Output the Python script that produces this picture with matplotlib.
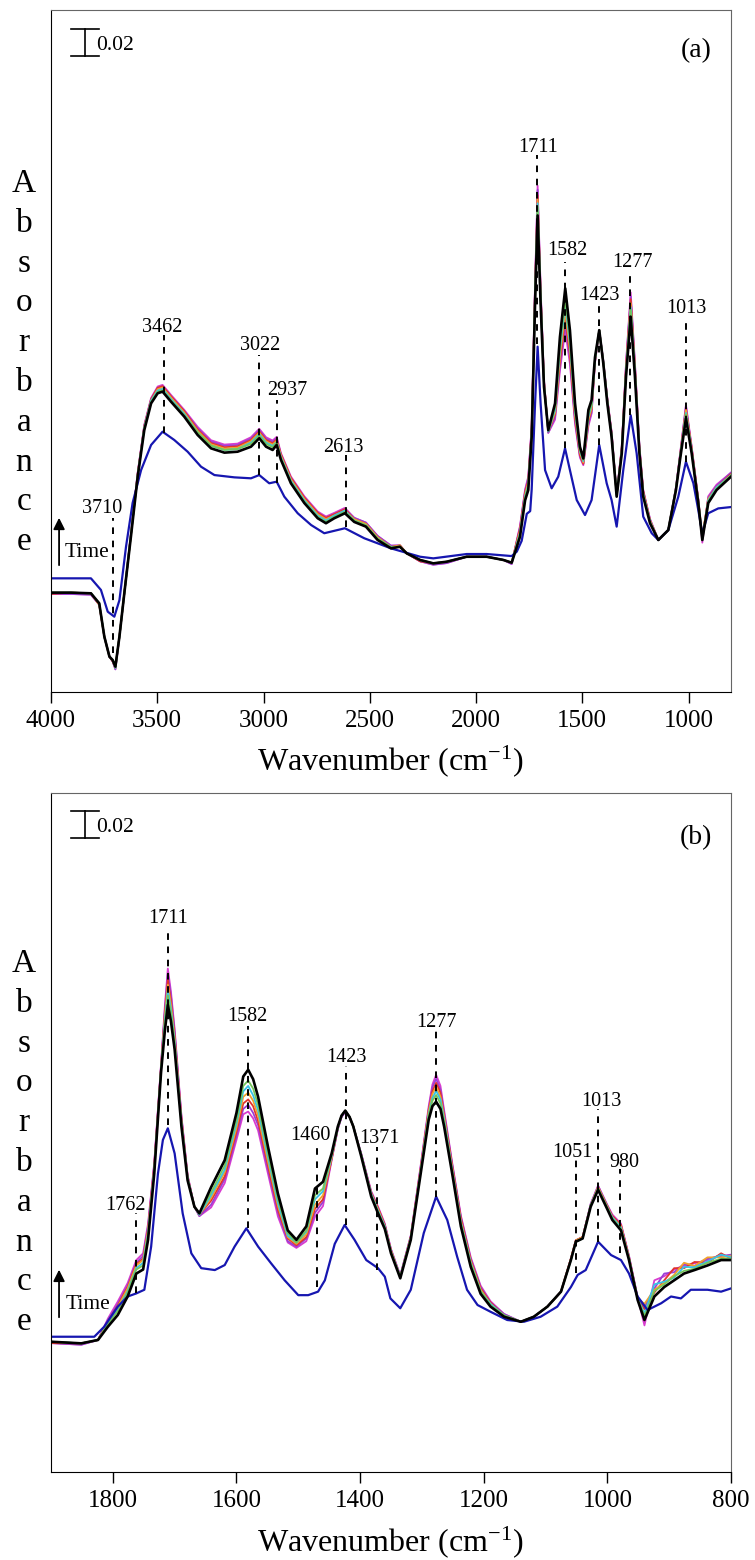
import numpy as np
import matplotlib.pyplot as plt
from matplotlib.transforms import blended_transform_factory

plt.rcParams['font.family'] = ['Liberation Serif', 'DejaVu Serif']
plt.rcParams['mathtext.fontset'] = 'stix'

# ---------------- panel (a), 4000-800 cm-1 ----------------
# absorbance (the 0.02 bar is 27 px tall)
wn_a = [4000, 3906, 3812, 3773, 3749, 3725, 3710, 3697, 3678, 3655,
        3624, 3592, 3561, 3529, 3498, 3475, 3435, 3373, 3310, 3247,
        3184, 3122, 3059, 3020, 2988, 2957, 2938, 2918, 2871, 2808,
        2745, 2706, 2667, 2617, 2573, 2518, 2463, 2400, 2358, 2326,
        2263, 2201, 2138, 2044, 1950, 1871, 1832, 1808, 1793, 1769,
        1754, 1738, 1722, 1710, 1696, 1680, 1660, 1628, 1605, 1580,
        1558, 1534, 1511, 1495, 1471, 1456, 1440, 1420, 1401, 1382,
        1362, 1338, 1314, 1294, 1272, 1252, 1231, 1213, 1181, 1142,
        1095, 1059, 1040, 1012, 985, 954, 935, 907, 868, 800]
black_a = [0.0736, 0.0736, 0.0731, 0.0657, 0.041, 0.0262, 0.0237, 0.0188, 0.041, 0.0731,
           0.115, 0.1595, 0.194, 0.2138, 0.2213, 0.2225, 0.215, 0.204, 0.1904, 0.1805,
           0.1773, 0.178, 0.1817, 0.188, 0.1817, 0.1793, 0.183, 0.172, 0.1546, 0.140,
           0.1287, 0.125, 0.1287, 0.1324, 0.126, 0.1225, 0.1126, 0.1064, 0.1076, 0.1027,
           0.0978, 0.0953, 0.0965, 0.1002, 0.1002, 0.0978, 0.0958, 0.1076, 0.115, 0.142,
           0.1496, 0.189, 0.288, 0.353, 0.288, 0.226, 0.194, 0.2138, 0.263, 0.299,
           0.268, 0.2138, 0.1817, 0.173, 0.209, 0.2163, 0.248, 0.268, 0.2435, 0.2138,
           0.189, 0.1447, 0.1768, 0.2336, 0.278, 0.2336, 0.1768, 0.1447, 0.125, 0.1126,
           0.120, 0.1496, 0.172, 0.2027, 0.1768, 0.140, 0.1126, 0.140, 0.1496, 0.1595]

wn_a_blue = [4000, 3812, 3765, 3733, 3702, 3678, 3647, 3616, 3576, 3529,
             3475, 3420, 3357, 3294, 3231, 3137, 3059, 3020, 2973, 2938,
             2902, 2839, 2776, 2714, 2617, 2526, 2400, 2263, 2201, 2044,
             1950, 1832, 1808, 1785, 1761, 1745, 1738, 1722, 1710, 1696,
             1675, 1644, 1613, 1581, 1558, 1526, 1487, 1456, 1420, 1385,
             1362, 1338, 1307, 1272, 1244, 1213, 1173, 1142, 1095, 1048,
             1012, 977, 954, 935, 907, 860, 800]
blue_a = [0.0842, 0.0842, 0.0756, 0.0595, 0.0558, 0.068, 0.1076, 0.140, 0.1644, 0.183,
          0.1928, 0.1867, 0.178, 0.1669, 0.1607, 0.159, 0.1583, 0.1607, 0.1546, 0.1558,
          0.1447, 0.1324, 0.1237, 0.1176, 0.1213, 0.1139, 0.1064, 0.1002, 0.099, 0.1022,
          0.1022, 0.1007, 0.104, 0.112, 0.132, 0.134, 0.150, 0.2138, 0.2558, 0.2138,
          0.1644, 0.1509, 0.1595, 0.1805, 0.1644, 0.1422, 0.1311, 0.1422, 0.183, 0.1546,
          0.1422, 0.1225, 0.1644, 0.205, 0.1768, 0.1299, 0.1176, 0.1126, 0.120, 0.1447,
          0.1706, 0.1546, 0.1348, 0.1176, 0.1324, 0.136, 0.137]

# intermediate spectra, given as their gap to the final (black) spectrum, in 0.001
dev_a_magenta = [-1, -1, -1, -1, 0, 0, -1, -2, 0, 0,
                 2, 3, 4, 4, 5, 5, 5, 5, 6, 6,
                 6, 6, 7, 7, 7, 7, 6, 5, 5, 5,
                 5, 5, 4, 4, 3, 3, 3, 2, 1, 0,
                 -1, -1, -1, 0, 0, 0, -1, 5, 8, 8,
                 10, 8, 15, 22, 12, 5, -2, -12, -25, -31,
                 -25, -15, -8, -5, -12, -10, -4, 0, 2, 4,
                 4, 2, 5, 10, 18, 10, 6, 5, 3, 0,
                 0, 2, 4, 10, 5, 3, -2, 5, 4, 3]
dev_a_purple = [-1, -1, -1, -1, 0, 0, -1, -2, 0, 0,
                2, 3, 3, 3, 4, 4, 4, 4, 5, 5,
                5, 5, 6, 6, 6, 6, 5, 4, 4, 4,
                4, 4, 3, 3, 3, 3, 3, 2, 1, 0,
                -1, -1, -1, 0, 0, 0, -1, 4, 7, 7,
                9, 7, 13, 19, 10, 4, -2, -10, -21, -26,
                -21, -13, -7, -4, -10, -9, -3, 0, 2, 3,
                3, 2, 4, 9, 15, 9, 5, 4, 3, 0,
                0, 2, 3, 9, 4, 3, 1, 4, 3, 3]
dev_a_red = [-1, 0, 0, -1, 0, 0, -1, -1, 0, 0,
             1, 2, 3, 3, 4, 4, 4, 4, 4, 4,
             4, 4, 5, 5, 5, 5, 4, 4, 4, 4,
             4, 4, 3, 3, 2, 2, 2, 1, 1, 0,
             -1, 0, 0, 0, 0, 0, 0, 4, 6, 6,
             7, 6, 11, 15, 8, 4, -1, -8, -18, -22,
             -18, -11, -6, -4, -8, -7, -3, 0, 1, 3,
             3, 1, 4, 7, 13, 7, 4, 4, 2, 0,
             0, 1, 3, 7, 4, 2, 2, 3, 2, 2]
dev_a_orange = [0, 0, 0, -1, 0, 0, 0, -1, 0, 0,
                1, 2, 2, 2, 3, 3, 3, 3, 3, 3,
                3, 3, 4, 4, 4, 4, 3, 3, 3, 3,
                3, 3, 2, 2, 2, 2, 2, 1, 1, 0,
                0, 0, 0, 0, 0, 0, 0, 3, 4, 4,
                6, 4, 8, 12, 7, 3, -1, -7, -14, -17,
                -14, -8, -4, -3, -7, -6, -2, 0, 1, 2,
                2, 1, 3, 6, 10, 6, 3, 3, 2, 0,
                0, 1, 2, 6, 3, 2, 3, 3, 2, 1]
dev_a_cyan = [0, 0, 0, 0, 0, 0, 0, -1, 0, 0,
              1, 1, 2, 2, 2, 2, 2, 2, 2, 2,
              2, 2, 3, 3, 3, 3, 2, 2, 2, 2,
              2, 2, 2, 2, 1, 1, 1, 1, 0, 0,
              0, 0, 0, 0, 0, 0, 0, 2, 3, 3,
              4, 3, 6, 9, 5, 2, -1, -5, -10, -12,
              -10, -6, -3, -2, -5, -4, -2, 0, 1, 2,
              2, 1, 2, 4, 7, 4, 2, 2, 1, 0,
              0, 1, 2, 4, 2, 1, 1, 2, 2, 1]
dev_a_green = [0, 0, 0, 0, 0, 0, 0, 0, 0, 0,
               1, 1, 1, 1, 1, 1, 1, 1, 2, 2,
               2, 2, 2, 2, 2, 2, 2, 1, 1, 1,
               1, 1, 1, 1, 1, 1, 1, 1, 0, 0,
               0, 0, 0, 0, 0, 0, 0, 1, 2, 2,
               3, 2, 4, 6, 3, 1, 0, -3, -6, -8,
               -6, -4, -2, -1, -3, -3, -1, 0, 1, 1,
               1, 1, 1, 3, 5, 3, 2, 1, 1, 0,
               0, 1, 1, 3, 1, 1, 0, 1, 1, 1]

# ---------------- panel (b), 1900-800 cm-1 ----------------
wn_b = [1900, 1851, 1824, 1808, 1792, 1776, 1762, 1751, 1743, 1733,
        1722, 1716, 1711, 1706, 1700, 1689, 1679, 1668, 1660, 1641,
        1619, 1600, 1589, 1581, 1573, 1565, 1549, 1533, 1517, 1503,
        1487, 1473, 1460, 1446, 1436, 1430, 1424, 1417, 1411, 1398,
        1382, 1371, 1360, 1350, 1335, 1318, 1302, 1289, 1283, 1277,
        1270, 1264, 1251, 1237, 1221, 1205, 1189, 1167, 1140, 1119,
        1097, 1075, 1059, 1051, 1040, 1027, 1015, 1002, 992, 978,
        965, 951, 940, 924, 908, 892, 876, 859, 838, 816,
        800]
black_b = [0.0965, 0.0953, 0.0978, 0.1076, 0.1163, 0.130, 0.147, 0.150, 0.172, 0.221,
           0.296, 0.326, 0.346, 0.334, 0.313, 0.256, 0.216, 0.1965, 0.1916, 0.211,
           0.231, 0.266, 0.293, 0.298, 0.291, 0.278, 0.241, 0.2064, 0.179, 0.172,
           0.182, 0.210, 0.215, 0.236, 0.256, 0.264, 0.2677, 0.263, 0.256, 0.2336,
           0.204, 0.1916, 0.180, 0.162, 0.1435, 0.172, 0.221, 0.261, 0.271, 0.2743,
           0.269, 0.2558, 0.221, 0.182, 0.152, 0.132, 0.1225, 0.115, 0.1113, 0.115,
           0.1225, 0.1336, 0.157, 0.1706, 0.173, 0.1965, 0.209, 0.1965, 0.1867, 0.179,
           0.157, 0.1274, 0.1126, 0.130, 0.137, 0.142, 0.147, 0.1496, 0.153, 0.157,
           0.157]

wn_b_blue = [1900, 1830, 1814, 1792, 1776, 1762, 1749, 1738, 1727, 1719,
             1711, 1700, 1687, 1673, 1657, 1635, 1619, 1603, 1584, 1565,
             1544, 1522, 1500, 1484, 1468, 1457, 1441, 1425, 1409, 1390,
             1371, 1360, 1351, 1335, 1318, 1297, 1277, 1259, 1243, 1227,
             1210, 1189, 1162, 1135, 1108, 1081, 1059, 1048, 1035, 1015,
             994, 978, 965, 951, 935, 913, 897, 881, 865, 838,
             816, 800]
blue_b = [0.1002, 0.1002, 0.1076, 0.1225, 0.130, 0.1323, 0.135, 0.167, 0.221, 0.246,
          0.2546, 0.236, 0.1916, 0.162, 0.151, 0.1496, 0.1533, 0.167, 0.1805, 0.167,
          0.1546, 0.142, 0.131, 0.131, 0.1336, 0.142, 0.169, 0.183, 0.172, 0.157,
          0.151, 0.1447, 0.1286, 0.1213, 0.135, 0.177, 0.204, 0.1867, 0.1595, 0.135,
          0.1237, 0.1187, 0.1126, 0.1113, 0.115, 0.1225, 0.137, 0.146, 0.1496, 0.1706,
          0.1607, 0.157, 0.147, 0.130, 0.120, 0.125, 0.130, 0.1286, 0.135, 0.135,
          0.1336, 0.136]

dev_b_magenta = [-1, -1, 0, 6, 10, 10, 10, 12, 12, 8,
                 6, 18, 27, 22, 15, 8, 4, 0, -2, -15,
                 -17, -20, -28, -31, -29, -25, -20, -17, -9, -6,
                 -11, -21, -18, -5, -2, -1, -1, 0, 0, 2,
                 4, 5, 4, 3, 2, 3, 6, 10, 16, 20,
                 17, 12, 8, 8, 7, 6, 4, 2, 0, 0,
                 0, 0, 1, 1, 1, 2, 3, 3, 4, 5,
                 3, 2, -4, 12, 8, 8, 6, 5, 4, 4,
                 2]
dev_b_purple = [-1, -1, 0, 5, 8, 8, 8, 10, 10, 7,
                5, 15, 23, 19, 13, 7, 3, 0, -2, -13,
                -14, -17, -24, -26, -25, -21, -17, -14, -8, -5,
                -9, -18, -15, -4, -2, -1, -1, 0, 0, 2,
                3, 4, 3, 3, 2, 3, 5, 8, 14, 17,
                14, 10, 7, 7, 6, 5, 3, 2, 0, 0,
                0, 0, 1, 1, 1, 2, 3, 3, 3, 4,
                3, 2, 10, 6, 10, 6, 7, 3, 5, 3,
                4]
dev_b_red = [-1, 0, 0, 4, 7, 7, 7, 8, 8, 6,
             4, 13, 19, 15, 10, 6, 3, 0, -1, -10,
             -12, -14, -20, -22, -20, -18, -14, -12, -6, -4,
             -8, -15, -13, -4, -1, 0, 0, 0, 0, 1,
             3, 4, 3, 2, 1, 2, 4, 7, 11, 14,
             12, 8, 6, 6, 5, 4, 3, 1, 0, 0,
             0, 0, 1, 1, 1, 1, 2, 2, 3, 4,
             2, 1, 8, 3, 5, 9, 4, 6, 2, 5,
             1]
dev_b_orange = [0, 0, 0, 3, 6, 6, 6, 7, 7, 4,
                3, 10, 15, 12, 8, 4, 2, 0, -1, -8,
                -9, -11, -15, -17, -16, -14, -11, -9, -5, -3,
                -6, -12, -10, -3, -1, 0, 0, 0, 0, 1,
                2, 3, 2, 2, 1, 2, 3, 6, 9, 11,
                9, 7, 4, 4, 4, 3, 2, 1, 0, 0,
                0, 0, 1, 1, 1, 1, 2, 2, 2, 3,
                2, 1, 12, 5, 3, 4, 8, 3, 6, 2,
                3]
dev_b_cyan = [0, 0, 0, 2, 4, 4, 4, 5, 5, 3,
              2, 8, 11, 9, 6, 3, 2, 0, -1, -6,
              -7, -8, -11, -12, -12, -10, -8, -7, -4, -2,
              -4, -8, -7, -2, -1, 0, 0, 0, 0, 1,
              2, 2, 2, 1, 1, 1, 2, 4, 6, 8,
              7, 5, 3, 3, 3, 2, 2, 1, 0, 0,
              0, 0, 0, 0, 0, 1, 1, 1, 2, 2,
              1, 1, 5, 9, 4, 2, 5, 2, 3, 4,
              2]
dev_b_green = [0, 0, 0, 2, 3, 3, 3, 3, 3, 2,
               2, 5, 7, 6, 4, 2, 1, 0, 0, -4,
               -4, -5, -7, -8, -7, -6, -5, -4, -2, -2,
               -3, -5, -5, -1, -1, 0, 0, 0, 0, 1,
               1, 1, 1, 1, 1, 1, 2, 3, 4, 5,
               4, 3, 2, 2, 2, 2, 1, 1, 0, 0,
               0, 0, 0, 0, 0, 1, 1, 1, 1, 1,
               1, 1, 3, 4, 2, 3, 2, 1, 2, 1,
               1]

# peak marks: label, line position, label centre, label baseline, line top, line bottom
marks_a = [('3710', 3710, 3758, 0.1326, 0.1289, 0.0289),
           ('3462', 3470, 3475, 0.2669, 0.2644, 0.1919),
           ('3022', 3022, 3015, 0.2533, 0.2496, 0.1607),
           ('2937', 2937, 2889, 0.2200, 0.2163, 0.1548),
           ('2613', 2613, 2624, 0.1780, 0.1756, 0.1222),
           ('1711', 1711, 1707, 0.4002, 0.3978, 0.2580),
           ('1582', 1582, 1570, 0.3237, 0.3185, 0.1807),
           ('1423', 1423, 1420, 0.2904, 0.2881, 0.1830),
           ('1277', 1277, 1266, 0.3150, 0.3126, 0.2052),
           ('1013', 1013, 1010, 0.2807, 0.2770, 0.1706)]
marks_b = [('1762', 1762, 1780, 0.1941, 0.1919, 0.1326),
           ('1711', 1711, 1710, 0.4064, 0.4030, 0.2570),
           ('1582', 1582, 1582, 0.3343, 0.3304, 0.1807),
           ('1460', 1469, 1480, 0.2459, 0.2422, 0.1370),
           ('1423', 1423, 1422, 0.3039, 0.3007, 0.1830),
           ('1371', 1372, 1369, 0.2437, 0.2407, 0.1496),
           ('1277', 1277, 1276, 0.3294, 0.3274, 0.2037),
           ('1051', 1051, 1056, 0.2333, 0.2311, 0.1474),
           ('1013', 1015, 1010, 0.2713, 0.2689, 0.1704),
           ('980', 980, 973, 0.2261, 0.2244, 0.1622)]

colours = ['#d83ccf', '#9a3fd6', '#e2332c', '#f0a22c', '#36c3e6', '#74c65a']
W, H = 755, 1560


def draw_panel(ax, wn, black, wn_blue, blue, devs, marks, tag, tag_y, xlim, ylim,
               ticks, bar, arrow, time_xy):
    """Draws one set of spectra with its peak marks, scale bar and time arrow"""

    wn = np.array(wn)
    black = np.array(black)
    for dev, c in zip(devs, colours):
        ax.plot(wn, black + np.array(dev) / 1000.0, color=c, lw=1.3)
    ax.plot(wn_blue, blue, color='#1616b0', lw=1.6)
    ax.plot(wn, black, color='black', lw=1.9)

    for label, x_line, x_text, y_text, top, bottom in marks:
        ax.plot([x_line, x_line], [bottom, top], color='black', lw=1.4,
                linestyle=(0, (3.4, 3.4)))
        ax.text(x_text, y_text, label, ha='center', va='baseline', fontsize=14.5)

    # 0.02 absorbance scale bar
    tr = blended_transform_factory(ax.transAxes, ax.transData)
    b_top, b_bottom = bar
    ax.plot([0.0294, 0.0706], [b_top, b_top], color='black', lw=1.2, transform=tr)
    ax.plot([0.0294, 0.0706], [b_bottom, b_bottom], color='black', lw=1.2, transform=tr)
    ax.plot([0.05, 0.05], [b_bottom, b_top], color='black', lw=1.2, transform=tr)
    ax.text(0.067, (b_top + b_bottom) / 2 - 0.0025, '0.02', transform=tr,
            ha='left', va='center', fontsize=15.5)

    ax.annotate('', xy=(arrow[0], arrow[2]), xytext=(arrow[0], arrow[1]),
                arrowprops=dict(arrowstyle='-|>', color='black', lw=1.3,
                                mutation_scale=17))
    ax.text(time_xy[0], time_xy[1], 'Time', ha='left', va='center', fontsize=15.5)

    ax.text(0.9485, tag_y, tag, transform=ax.transAxes,
            ha='center', va='center', fontsize=20)

    ax.set_xlim(*xlim)
    ax.set_ylim(*ylim)
    ax.set_xticks(ticks)
    ax.set_yticks([])
    ax.tick_params(axis='x', direction='out', length=8, width=1, labelsize=18, pad=5)
    for side in ['left', 'bottom']:
        ax.spines[side].set_color('black')
    for side in ['top', 'right']:
        ax.spines[side].set_color('#666666')


def ylabel(y_first):
    """Stacked letters of Absorbance left of a panel"""
    for i, ch in enumerate('Absorbance'):
        plt.gcf().text(24 / W, 1 - (y_first + 39.8 * i) / H, ch, ha='center',
                       va='baseline', fontsize=24)


fig = plt.figure(figsize=(W / 100, H / 100), dpi=100)
ax_a = fig.add_axes([51 / W, 1 - 692 / H, 680 / W, 682 / H])
ax_b = fig.add_axes([51 / W, 1 - 1472 / H, 680 / W, 679 / H])

draw_panel(ax_a, wn_a, black_a, wn_a_blue, blue_a,
           [dev_a_magenta, dev_a_purple, dev_a_red, dev_a_orange, dev_a_cyan, dev_a_green],
           marks_a, '(a)', 0.94, (4000, 800), (0, 0.5052),
           [4000, 3500, 3000, 2500, 2000, 1500, 1000],
           (0.4911, 0.4711), (3962, 0.0919, 0.1311), (3934, 0.1037))
draw_panel(ax_b, wn_b, black_b, wn_b_blue, blue_b,
           [dev_b_magenta, dev_b_purple, dev_b_red, dev_b_orange, dev_b_cyan, dev_b_green],
           marks_b, '(b)', 0.935, (1900, 800), (0, 0.503),
           [1800, 1600, 1400, 1200, 1000, 800],
           (0.4896, 0.4696), (1887, 0.1126, 0.1519), (1877, 0.1244))

ylabel(192)
ylabel(972)
xlab = r'Wavenumber (cm$^{\mathregular{-1}}$)'
fig.text(391 / W, 1 - 762 / H, xlab, ha='center', va='center', fontsize=23)
fig.text(391 / W, 1 - 1543 / H, xlab, ha='center', va='center', fontsize=23)

fig.savefig('out.png', dpi=100)
